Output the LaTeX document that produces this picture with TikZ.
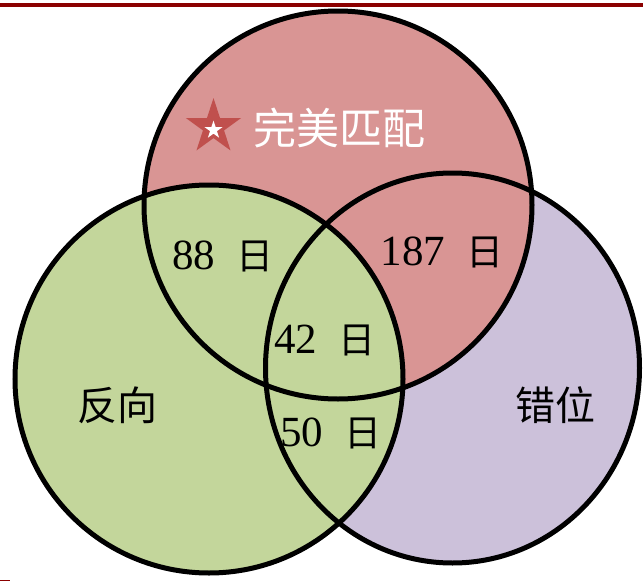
\documentclass[tikz,border=0pt]{standalone}
\usepackage{fontspec}
\setmainfont{Liberation Serif}
\newfontfamily\cjk{Noto Sans CJK SC}
\usetikzlibrary{calc}
\definecolor{redfill}{HTML}{D99594}
\definecolor{greenfill}{HTML}{C3D69B}
\definecolor{purplefill}{HTML}{CCC1DA}
\definecolor{starred}{HTML}{C0504D}
\definecolor{darkline}{HTML}{8B0000}
\newcommand{\dayc}{{\cjk\fontsize{37}{37}\selectfont 日}}
\begin{document}
\begin{tikzpicture}[x=1pt,y=-1pt,
  ring/.style={draw=black,line width=5pt},
  numlabel/.style={font=\fontsize{43}{43}\selectfont,inner sep=0pt,anchor=center},
  setlabel/.style={font=\cjk\fontsize{40}{40}\selectfont,inner sep=0pt,anchor=center}]
\useasboundingbox (0,0) rectangle (643,581);
\fill[white] (0,0) rectangle (643,581);
% fills
\fill[purplefill] (452.5,368) ellipse [x radius=187, y radius=195];
\fill[redfill] (338,205) circle [radius=194];
\fill[greenfill] (209,379) circle [radius=194];
% outlines
\draw[ring] (452.5,368) ellipse [x radius=187, y radius=195];
\draw[ring] (338,205) circle [radius=194];
\draw[ring] (209,379) circle [radius=194];
% top rule and bottom mark
\fill[darkline] (0,3) rectangle (643,6.5);
\fill[darkline] (0,579.5) rectangle (10,581);
% star
\coordinate (st) at (213.5,127);
\fill[starred,shift={(st)}] (-90:29) \foreach \k in {1,...,9}{ -- ({-90+36*\k}:{mod(\k,2)==0 ? 29 : 11.1}) } -- cycle;
\fill[white,shift={(213.5,130)}] (-90:9.5) \foreach \k in {1,...,9}{ -- ({-90+36*\k}:{mod(\k,2)==0 ? 9.5 : 3.63}) } -- cycle;
% labels
\node[setlabel,text=white,font=\cjk\fontsize{43}{43}\selectfont] (perfect) at (339,128) {完美匹配};
\node[numlabel] (a) at (223,256) {88\hspace{0.5em}\dayc};
\node[numlabel] (b) at (442,252) {187\hspace{0.5em}\dayc};
\node[numlabel] (c) at (325,340) {42\hspace{0.5em}\dayc};
\node[numlabel] (d) at (331,433) {50\hspace{0.5em}\dayc};
\node[setlabel] (rev) at (117,405) {反向};
\node[setlabel] (mis) at (555,405) {错位};
\end{tikzpicture}
\end{document}
